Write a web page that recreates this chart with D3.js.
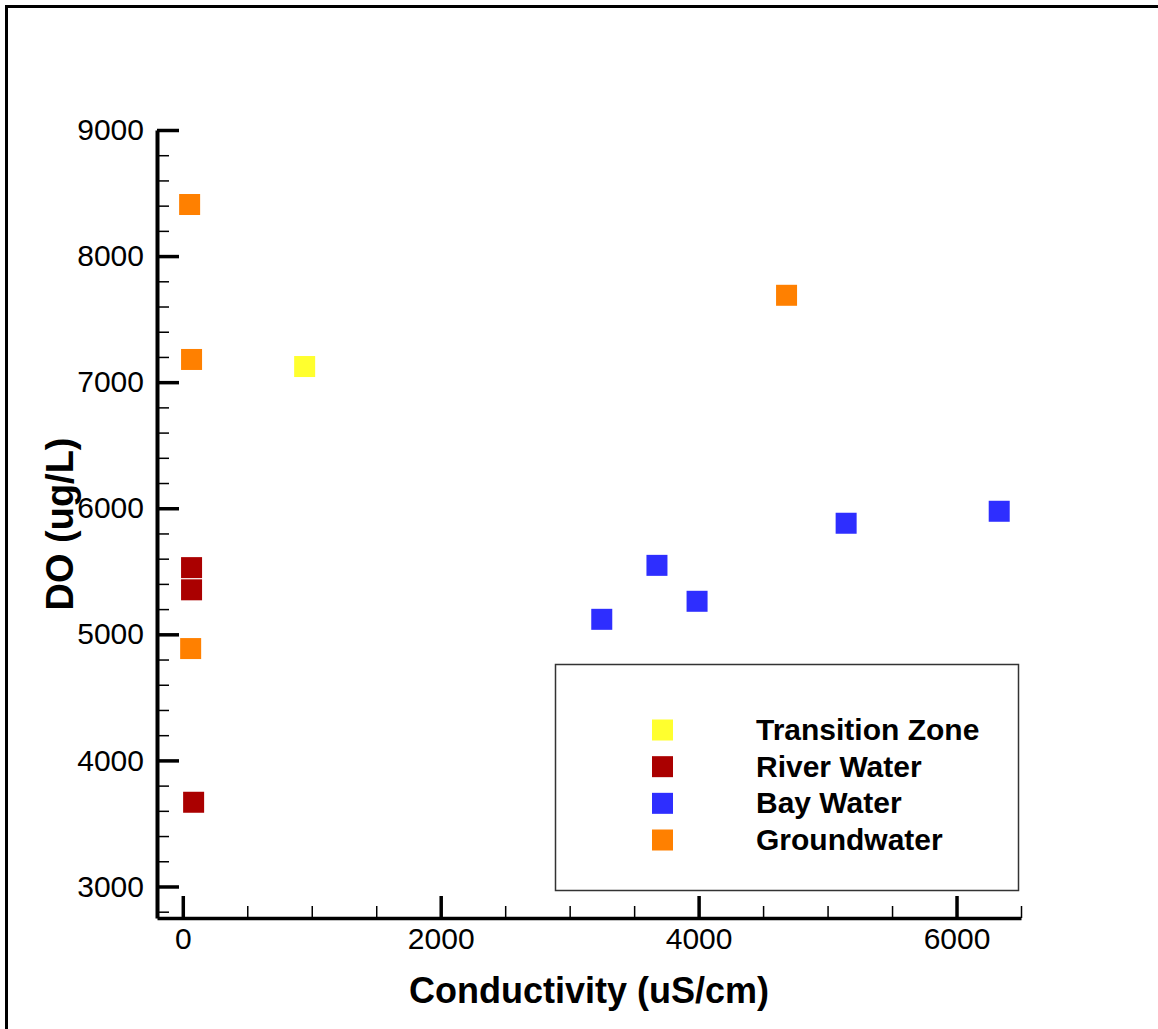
<!DOCTYPE html>
<html>
<head>
<meta charset="utf-8">
<script src="https://cdn.jsdelivr.net/npm/d3@7"></script>
<style>
  body { margin: 0; background: #fff; }
  svg { display: block; font-family: "Liberation Sans", Arial, sans-serif; }
</style>
</head>
<body>
<script>
// series: conductivity (uS/cm) and DO (ug/L)
const groups = ["Transition Zone", "River Water", "Bay Water", "Groundwater"]
const groupColors = ["#ffff2e", "#aa0000", "#2e2eff", "#ff8000"]

const transitionCond = [945]
const transitionDO = [7124]
const riverCond = [68, 68, 84]
const riverDO = [5529, 5353, 3668]
const bayCond = [3249, 3677, 3988, 5144, 6331]
const bayDO = [5119, 5547, 5262, 5881, 5976]
const groundCond = [53, 68, 61, 4682]
const groundDO = [8409, 7180, 4887, 7689]

const xMajor = [0, 2000, 4000, 6000]
const yMajor = [3000, 4000, 5000, 6000, 7000, 8000, 9000]

const width = 1158
const height = 1029

const svg = d3.select("body").append("svg")
    .attr("width", width)
    .attr("height", height)

// outer frame (only the top / left edges show in the picture)
svg.append("rect")
    .attr("x", 6.5).attr("y", 6.5)
    .attr("width", width + 20).attr("height", height + 20)
    .attr("fill", "none").attr("stroke", "#000").attr("stroke-width", 3)

const x = d3.scaleLinear().domain([-200, 6500]).range([157, 1021])
const y = d3.scaleLinear().domain([2750, 9000]).range([918, 130])

const xMinor = d3.range(0, 6501, 500).filter(v => !xMajor.includes(v))
const yMinor = d3.range(2800, 9001, 200).filter(v => !yMajor.includes(v))

// minor ticks
svg.append("g")
    .attr("transform", `translate(0,${y(2750)})`)
    .call(d3.axisBottom(x).tickValues(xMinor).tickSize(-12).tickSizeOuter(0).tickFormat(""))
    .call(g => g.select(".domain").remove())
    .call(g => g.selectAll("line").attr("stroke-width", 1.5))

svg.append("g")
    .attr("transform", `translate(${x(-200)},0)`)
    .call(d3.axisLeft(y).tickValues(yMinor).tickSize(-12).tickSizeOuter(0).tickFormat(""))
    .call(g => g.select(".domain").remove())
    .call(g => g.selectAll("line").attr("stroke-width", 1.5))

// major ticks + labels
const xAxis = svg.append("g")
    .attr("transform", `translate(0,${y(2750)})`)
    .call(d3.axisBottom(x).tickValues(xMajor).tickSize(-22).tickSizeOuter(0).tickPadding(10).tickFormat(d3.format("d")))
xAxis.select(".domain").attr("stroke-width", 3.5)
xAxis.selectAll(".tick line").attr("stroke-width", 3.5)
xAxis.selectAll("text").attr("font-size", 30).attr("font-family", "Liberation Sans, Arial").attr("fill", "#000")

const yAxis = svg.append("g")
    .attr("transform", `translate(${x(-200)},0)`)
    .call(d3.axisLeft(y).tickValues(yMajor).tickSize(-22).tickSizeOuter(0).tickPadding(13).tickFormat(d3.format("d")))
yAxis.select(".domain").attr("stroke-width", 4)
yAxis.selectAll(".tick line").attr("stroke-width", 3.5)
yAxis.selectAll("text").attr("font-size", 30).attr("font-family", "Liberation Sans, Arial").attr("fill", "#000")

// axis titles
svg.append("text")
    .attr("x", (x(-200) + x(6500)) / 2).attr("y", 1003)
    .attr("text-anchor", "middle")
    .attr("font-size", 36).attr("font-weight", "bold")
    .text("Conductivity (uS/cm)")

svg.append("text")
    .attr("transform", `translate(73,${(y(2750) + y(9000)) / 2}) rotate(-90)`)
    .attr("text-anchor", "middle")
    .attr("font-size", 38).attr("font-weight", "bold")
    .text("DO (ug/L)")

// points
const series = [
    {cond: transitionCond, dO: transitionDO},
    {cond: riverCond, dO: riverDO},
    {cond: bayCond, dO: bayDO},
    {cond: groundCond, dO: groundDO}
]
const sz = 21

series.forEach((s, i) => {
    svg.append("g")
        .selectAll("rect")
        .data(s.cond.map((c, j) => [c, s.dO[j]]))
        .enter()
        .append("rect")
        .attr("x", d => x(d[0]) - sz / 2)
        .attr("y", d => y(d[1]) - sz / 2)
        .attr("width", sz)
        .attr("height", sz)
        .attr("fill", groupColors[i])
})

// legend
const legend = svg.append("g")
legend.append("rect")
    .attr("x", 555.5).attr("y", 664.5)
    .attr("width", 463).attr("height", 226)
    .attr("fill", "#fff").attr("stroke", "#333").attr("stroke-width", 1.5)

const rowY = d3.scalePoint().domain(groups).range([730, 840])

legend.selectAll("rect.key")
    .data(groups)
    .enter()
    .append("rect")
    .attr("class", "key")
    .attr("x", 652).attr("y", d => rowY(d) - sz / 2)
    .attr("width", sz).attr("height", sz)
    .attr("fill", (d, i) => groupColors[i])

legend.selectAll("text")
    .data(groups)
    .enter()
    .append("text")
    .attr("x", 756).attr("y", d => rowY(d) + 10)
    .attr("font-size", 30).attr("font-weight", "bold")
    .text(d => d)
</script>
</body>
</html>
